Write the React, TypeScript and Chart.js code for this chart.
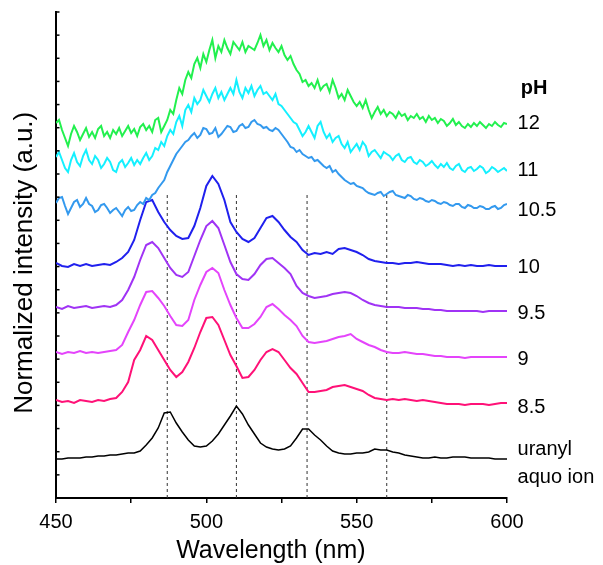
import React, { useEffect, useRef } from "react";
import { Chart, registerables } from "chart.js";

Chart.register(...registerables);

// Wavelength grids (nm)
const WL_FINE = [
  450, 451, 452, 453, 454, 455, 456, 457, 458, 459, 460, 461, 462, 463, 464, 465, 466, 467, 468, 469,
  470, 471, 472, 473, 474, 475, 476, 477, 478, 479, 480, 481, 482, 483, 484, 485, 486, 487, 488, 489,
  490, 491, 492, 493, 494, 495, 496, 497, 498, 499, 500, 501, 502, 503, 504, 505, 506, 507, 508, 509,
  510, 511, 512, 513, 514, 515, 516, 517, 518, 519, 520, 521, 522, 523, 524, 525, 526, 527, 528, 529,
  530, 531, 532, 533, 534, 535, 536, 537, 538, 539, 540, 541, 542, 543, 544, 545, 546, 547, 548, 549,
  550, 551, 552, 553, 554, 555, 556, 557, 558, 559, 560, 561, 562, 563, 564, 565, 566, 567, 568, 569,
  570, 571, 572, 573, 574, 575, 576, 577, 578, 579, 580, 581, 582, 583, 584, 585, 586, 587, 588, 589,
  590, 591, 592, 593, 594, 595, 596, 597, 598, 599, 600,
];
const WL_COARSE = [
  450, 452, 454, 456, 458, 460, 462, 464, 466, 468, 470, 472, 474, 476, 478, 480, 482, 484, 486, 488,
  490, 492, 494, 496, 498, 500, 502, 504, 506, 508, 510, 512, 514, 516, 518, 520, 522, 524, 526, 528,
  530, 532, 534, 536, 538, 540, 542, 544, 546, 548, 550, 552, 554, 556, 558, 560, 562, 564, 566, 568,
  570, 572, 574, 576, 578, 580, 582, 584, 586, 588, 590, 592, 594, 596, 598, 600,
];

// Offset, normalized intensity (a.u.) — fine grid
const PH12 = [
  375, 378, 368, 360, 352, 364, 372, 366, 358, 364, 370, 361, 366, 360, 369, 372, 362, 366, 360, 368,
  364, 370, 362, 367, 372, 365, 369, 362, 371, 374, 368, 372, 366, 378, 380, 366, 372, 378, 388, 384,
  398, 410, 404, 418, 426, 420, 434, 440, 430, 444, 436, 448, 458, 440, 452, 446, 458, 450, 444, 456,
  452, 448, 456, 446, 452, 450, 448, 455, 463, 452, 458, 448, 455, 450, 446, 452, 443, 438, 442, 434,
  428, 424, 416, 418, 412, 415, 410, 418, 408, 412, 414, 406, 418, 410, 400, 404, 398, 408, 402, 396,
  392, 396, 390, 398, 388, 380, 386, 391, 384, 388, 382, 386, 384, 380, 386, 382, 384, 378, 382, 380,
  384, 379, 381, 376, 382, 378, 380, 375, 379, 377, 372, 375, 379, 373, 376, 372, 370, 374, 371, 375,
  372, 376, 373, 370, 374, 372, 376, 373, 371, 375, 374,
];
const PH11 = [
  341, 346, 338, 330, 326, 338, 345, 336, 332, 342, 348, 338, 334, 342, 338, 330, 334, 340, 336, 328,
  326, 335, 338, 331, 335, 340, 333, 338, 334, 340, 345, 338, 342, 350, 348, 356, 352, 362, 368, 364,
  376, 382, 372, 388, 393, 386, 400, 394, 398, 408, 402, 396, 404, 410, 400, 406, 398, 404, 410, 404,
  418, 406, 400, 410, 405, 412, 402, 408, 412, 404, 406, 402, 398, 404, 394, 392, 388, 384, 380, 376,
  374, 368, 362, 366, 372, 366, 360, 372, 376, 366, 360, 364, 356, 360, 362, 354, 350, 356, 346, 350,
  354, 348, 356, 352, 342, 346, 348, 344, 340, 346, 344, 342, 338, 342, 344, 338, 336, 340, 341, 336,
  334, 338, 336, 332, 334, 337, 333, 330, 334, 331, 335, 330, 328, 332, 334, 328, 326, 330, 331, 327,
  329, 332, 330, 325, 327, 331, 329, 326, 328, 330, 327,
];
const PH105 = [
  295, 300, 301, 292, 284, 290, 296, 298, 291, 294, 300, 294, 292, 286, 288, 293, 294, 290, 285, 288,
  290, 286, 282, 288, 291, 287, 288, 293, 296, 294, 300, 298, 303, 305, 310, 314, 318, 326, 332, 338,
  344, 348, 352, 356, 358, 362, 365, 360, 363, 370, 369, 364, 365, 370, 361, 364, 368, 372, 371, 366,
  367, 372, 374, 370, 371, 376, 378, 374, 373, 370, 371, 368, 367, 370, 368, 364, 360, 356, 351, 350,
  346, 348, 344, 342, 340, 341, 337, 338, 335, 332, 330, 332, 326, 328, 324, 321, 318, 316, 314, 315,
  312, 311, 310, 307, 305, 304, 303, 305, 306, 302, 304, 306, 307, 303, 302, 301, 300, 303, 302, 299,
  298, 300, 299, 297, 296, 298, 297, 295, 294, 296, 295, 293, 292, 294, 294, 291, 290, 293, 292, 290,
  290, 292, 291, 289, 289, 291, 292, 289, 290, 293, 294,
];

// Offset, normalized intensity (a.u.) — coarse grid
const PH10 = [
  235, 232, 231, 234, 232, 234, 232, 233, 234, 233, 236, 240, 246, 258, 278, 296, 298, 286, 276, 268,
  262, 259, 260, 272, 290, 312, 322, 314, 298, 276, 266, 259, 256, 260, 270, 280, 282, 276, 268, 261,
  256, 248, 243, 245, 244, 246, 244, 249, 250, 248, 246, 243, 239, 237, 236, 235, 235, 234, 235, 235,
  236, 235, 234, 234, 234, 233, 232, 233, 232, 233, 232, 232, 233, 232, 232, 232,
];
const PH95 = [
  191, 189, 192, 190, 191, 192, 190, 191, 192, 191, 193, 198, 208, 221, 238, 253, 256, 250, 240, 230,
  223, 221, 226, 242, 258, 272, 277, 270, 253, 236, 224, 219, 218, 224, 233, 239, 240, 235, 230, 224,
  212, 205, 202, 200, 201, 202, 204, 205, 206, 205, 202, 198, 195, 193, 192, 191, 191, 191, 190, 190,
  190, 189, 189, 188, 188, 187, 187, 187, 187, 187, 187, 186, 187, 187, 187, 187,
];
const PH9 = [
  146, 144, 146, 145, 147, 145, 146, 145, 146, 147, 148, 153, 166, 178, 193, 206, 207, 200, 192, 182,
  173, 172, 178, 198, 213, 226, 230, 225, 208, 193, 180, 170, 170, 174, 181, 191, 194, 189, 183, 178,
  172, 162, 156, 155, 156, 157, 159, 161, 162, 164, 159, 156, 153, 151, 148, 146, 145, 145, 146, 145,
  144, 144, 143, 142, 142, 141, 141, 141, 140, 141, 141, 141, 141, 141, 141, 141,
];
const PH85 = [
  98, 96, 97, 95, 98, 97, 96, 98, 97, 99, 100, 106, 116, 138, 148, 162, 158, 148, 138, 128,
  121, 126, 136, 150, 166, 180, 181, 173, 158, 143, 132, 120, 121, 128, 138, 146, 149, 146, 138, 130,
  124, 115, 106, 106, 107, 108, 111, 112, 113, 111, 109, 107, 103, 100, 99, 98, 99, 98, 99, 98,
  97, 98, 97, 96, 95, 94, 94, 94, 93, 94, 94, 94, 93, 94, 95, 95,
];
const URANYL = [
  39, 39, 40, 40, 40, 41, 41, 42, 42, 43, 43, 44, 45, 45, 47, 53, 60, 70, 85, 86,
  75, 66, 58, 52, 51, 52, 57, 64, 73, 82, 92, 84, 73, 64, 55, 51, 49, 48, 49, 52,
  60, 69, 69, 63, 58, 52, 47, 45, 44, 44, 45, 45, 46, 49, 48, 48, 46, 45, 43, 42,
  41, 40, 40, 41, 40, 40, 41, 41, 41, 40, 40, 40, 40, 39, 39, 39,
];

const SERIES = [PH12, PH11, PH105, PH10, PH95, PH9, PH85, URANYL];
const SERIES_GRID = [WL_FINE, WL_FINE, WL_FINE, WL_COARSE, WL_COARSE, WL_COARSE, WL_COARSE, WL_COARSE];
const SERIES_NAMES = ["pH 12", "pH 11", "pH 10.5", "pH 10", "pH 9.5", "pH 9", "pH 8.5", "uranyl aquo ion"];
const SERIES_COLORS = ["#22f04e", "#14f0ff", "#3399ee", "#2020ee", "#a033f5", "#e444fb", "#ff1177", "#000000"];
const SERIES_WIDTHS = [2, 2, 2, 2, 2, 2, 2, 1.5];

// Reference (dashed) lines: wavelength and top value
const REF_LINES = [487, 510, 533.5, 560];
const REF_TOP = 303;

// Right-hand labels
const LABEL_TEXT = ["pH", "12", "11", "10.5", "10", "9.5", "9", "8.5", "uranyl", "aquo ion"];
const LABEL_Y = [410, 375, 328, 288, 231, 185, 139, 91, 49, 21];
const LABEL_X = [604.6, 603.5, 603.5, 603.5, 603.5, 603.5, 603.5, 603.5, 603.5, 603.5];

const X_TITLE = "Wavelength (nm)";
const Y_TITLE = "Normalized intensity (a.u.)";

const Y_MAX = 486;
const Y_TICK_STEP = 486 / 21;

const FONT = '"Liberation Sans", Arial, Helvetica, sans-serif';

const decorPlugin = {
  id: "decor",
  afterDraw(chart: any) {
    const { ctx, scales } = chart;
    const x = scales.x;
    const y = scales.y;
    ctx.save();
    // inward ticks on the y axis
    ctx.strokeStyle = "#000";
    ctx.lineWidth = 1.5;
    y.ticks.forEach((t: any) => {
      const py = y.getPixelForValue(t.value);
      ctx.beginPath();
      ctx.moveTo(x.left, py);
      ctx.lineTo(x.left + 3.5, py);
      ctx.stroke();
    });
    // series labels
    ctx.fillStyle = "#000";
    ctx.textBaseline = "middle";
    ctx.textAlign = "left";
    LABEL_TEXT.forEach((t, i) => {
      ctx.font = (i === 0 ? "bold " : "") + "20px " + FONT;
      ctx.fillText(t, x.getPixelForValue(LABEL_X[i]), y.getPixelForValue(LABEL_Y[i]));
    });
    // axis titles
    ctx.textAlign = "center";
    ctx.font = "25px " + FONT;
    ctx.fillText(X_TITLE, x.left + (x.right - x.left) * 0.4765, 551);
    ctx.save();
    ctx.translate(25, y.top + (y.bottom - y.top) * 0.516);
    ctx.rotate(-Math.PI / 2);
    ctx.font = "26px " + FONT;
    ctx.fillText(Y_TITLE, 0, 0);
    ctx.restore();
    ctx.restore();
  },
};

export default function App() {
  const ref = useRef<HTMLCanvasElement | null>(null);

  useEffect(() => {
    document.body.style.margin = "0";
    const canvas = ref.current;
    if (!canvas) return;

    const datasets: any[] = SERIES.map((s, i) => ({
      label: SERIES_NAMES[i],
      data: SERIES_GRID[i].map((w, k) => ({ x: w, y: s[k] })),
      borderColor: SERIES_COLORS[i],
      borderWidth: SERIES_WIDTHS[i],
      pointRadius: 0,
      tension: 0,
      fill: false,
      order: 1,
    }));
    REF_LINES.forEach((w) => {
      datasets.push({
        label: "ref " + w,
        data: [
          { x: w, y: 0 },
          { x: w, y: REF_TOP },
        ],
        borderColor: "#333",
        borderWidth: 1,
        borderDash: [3, 3],
        pointRadius: 0,
        fill: false,
        order: 10,
      });
    });

    const chart = new Chart(canvas, {
      type: "line",
      data: { datasets },
      options: {
        animation: false,
        responsive: false,
        devicePixelRatio: 1,
        layout: { padding: { left: 0, right: 96, top: 12, bottom: 0 } },
        plugins: { legend: { display: false }, tooltip: { enabled: false } },
        scales: {
          x: {
            type: "linear",
            min: 450,
            max: 600,
            afterFit: (s: any) => {
              s.height = 67;
            },
            grid: { drawOnChartArea: false, drawTicks: true, tickLength: 5, color: "#000", lineWidth: 1.5 },
            border: { display: true, color: "#000", width: 2 },
            ticks: {
              stepSize: 25,
              padding: 7,
              color: "#000",
              maxRotation: 0,
              autoSkip: false,
              font: { family: FONT, size: 20 },
              callback: (v: any) => (Number(v) % 50 === 0 ? String(v) : ""),
            },
            title: { display: false },
          },
          y: {
            type: "linear",
            min: 0,
            max: Y_MAX,
            afterFit: (s: any) => {
              s.width = 56;
            },
            grid: { display: false },
            border: { display: true, color: "#000", width: 2 },
            ticks: { display: false, stepSize: Y_TICK_STEP, maxTicksLimit: 30 },
            title: { display: false },
          },
        },
      },
      plugins: [decorPlugin],
    } as any);

    return () => chart.destroy();
  }, []);

  return (
    <div style={{ width: 603, height: 565 }}>
      <canvas ref={ref} width={603} height={565} style={{ display: "block" }} />
    </div>
  );
}
